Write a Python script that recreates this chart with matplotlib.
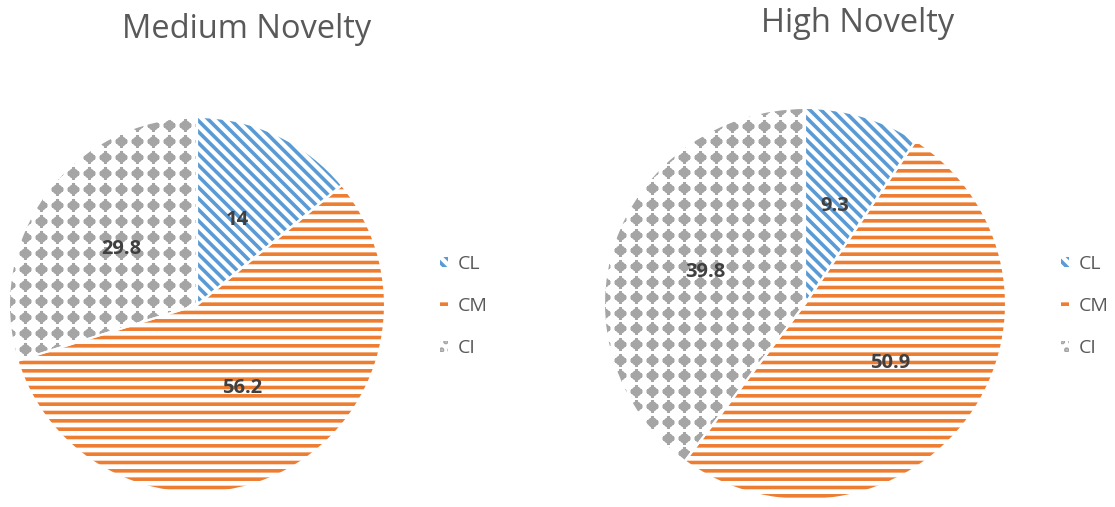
import matplotlib.pyplot as plt
import numpy as np
from matplotlib.patches import Patch

plt.rcParams['font.family'] = ['Open Sans', 'DejaVu Sans']
plt.rcParams['hatch.linewidth'] = 2.6

categories = ["CL", "CM", "CI"]
medium = [14, 56.2, 29.8]
high = [9.3, 50.9, 39.8]

colors = ["#5b9bd5", "#ed7d31", "#a5a5a5"]
hatches = ["\\\\\\", "--", None]

W, H = 1115, 507
fig = plt.figure(figsize=(W / 100, H / 100), dpi=100)


def px_axes(cx, cy, rx, ry):
    return fig.add_axes([(cx - rx) / W, 1 - (cy + ry) / H, 2 * rx / W, 2 * ry / H])


def dot_pattern(ax, wedge, rx):
    # grey dotted fill, clipped to the wedge
    step = 16 / rx
    g = np.arange(-1, 1 + step, step)
    xx, yy = np.meshgrid(g, g)
    for m, s, lw in (("o", 52, 0), ("+", 85, 2.2)):
        sc = ax.scatter(xx.ravel(), yy.ravel(), s=s, marker=m, c=colors[2],
                        linewidths=lw, zorder=2)
        sc.set_clip_path(wedge)


def draw(values, title, cx, cy, rx, ry, tx, ty, lx, pct):
    ax = px_axes(cx, cy, rx, ry)
    wedges, _, autotexts = ax.pie(
        values, startangle=90, counterclock=False, colors=["white"] * 3,
        autopct=lambda p: f"{round(p, 1):g}", pctdistance=pct,
        textprops=dict(color="#404040", fontsize=14.5, fontweight="bold"),
        wedgeprops=dict(linewidth=0))
    for w, c, h in zip(wedges, colors, hatches):
        w.set_edgecolor(c)
        w.set_hatch(h)
    dot_pattern(ax, wedges[2], rx)
    # white separators between slices
    ax.pie(values, startangle=90, counterclock=False, colors=["none"] * 3,
           wedgeprops=dict(edgecolor="white", linewidth=1.5, zorder=3))
    for t in autotexts:
        t.set_zorder(5)
    ax.set_xlim(-1, 1)
    ax.set_ylim(-1, 1)
    ax.set_aspect("auto")
    ax.axis("off")

    fig.text(tx / W, 1 - ty / H, title, ha="center", va="center",
             fontsize=23.5, color="#595959")

    handles = [Patch(facecolor="white", edgecolor=c, hatch=h if h else "..",
                     linewidth=0) for c, h in zip(colors, hatches)]
    fig.legend(handles, categories, loc="center left",
               bbox_to_anchor=(lx / W, 1 - 306 / H), frameon=False,
               fontsize=14, labelcolor="#595959", handlelength=0.45,
               handleheight=0.45, handletextpad=0.5, labelspacing=1.25)


draw(medium, "Medium Novelty", 197, 305, 188, 188, 247, 29, 422, 0.5)
draw(high, "High Novelty", 805, 304, 201, 196, 858, 23, 1043, 0.52)

fig.savefig("out.png", dpi=100)
